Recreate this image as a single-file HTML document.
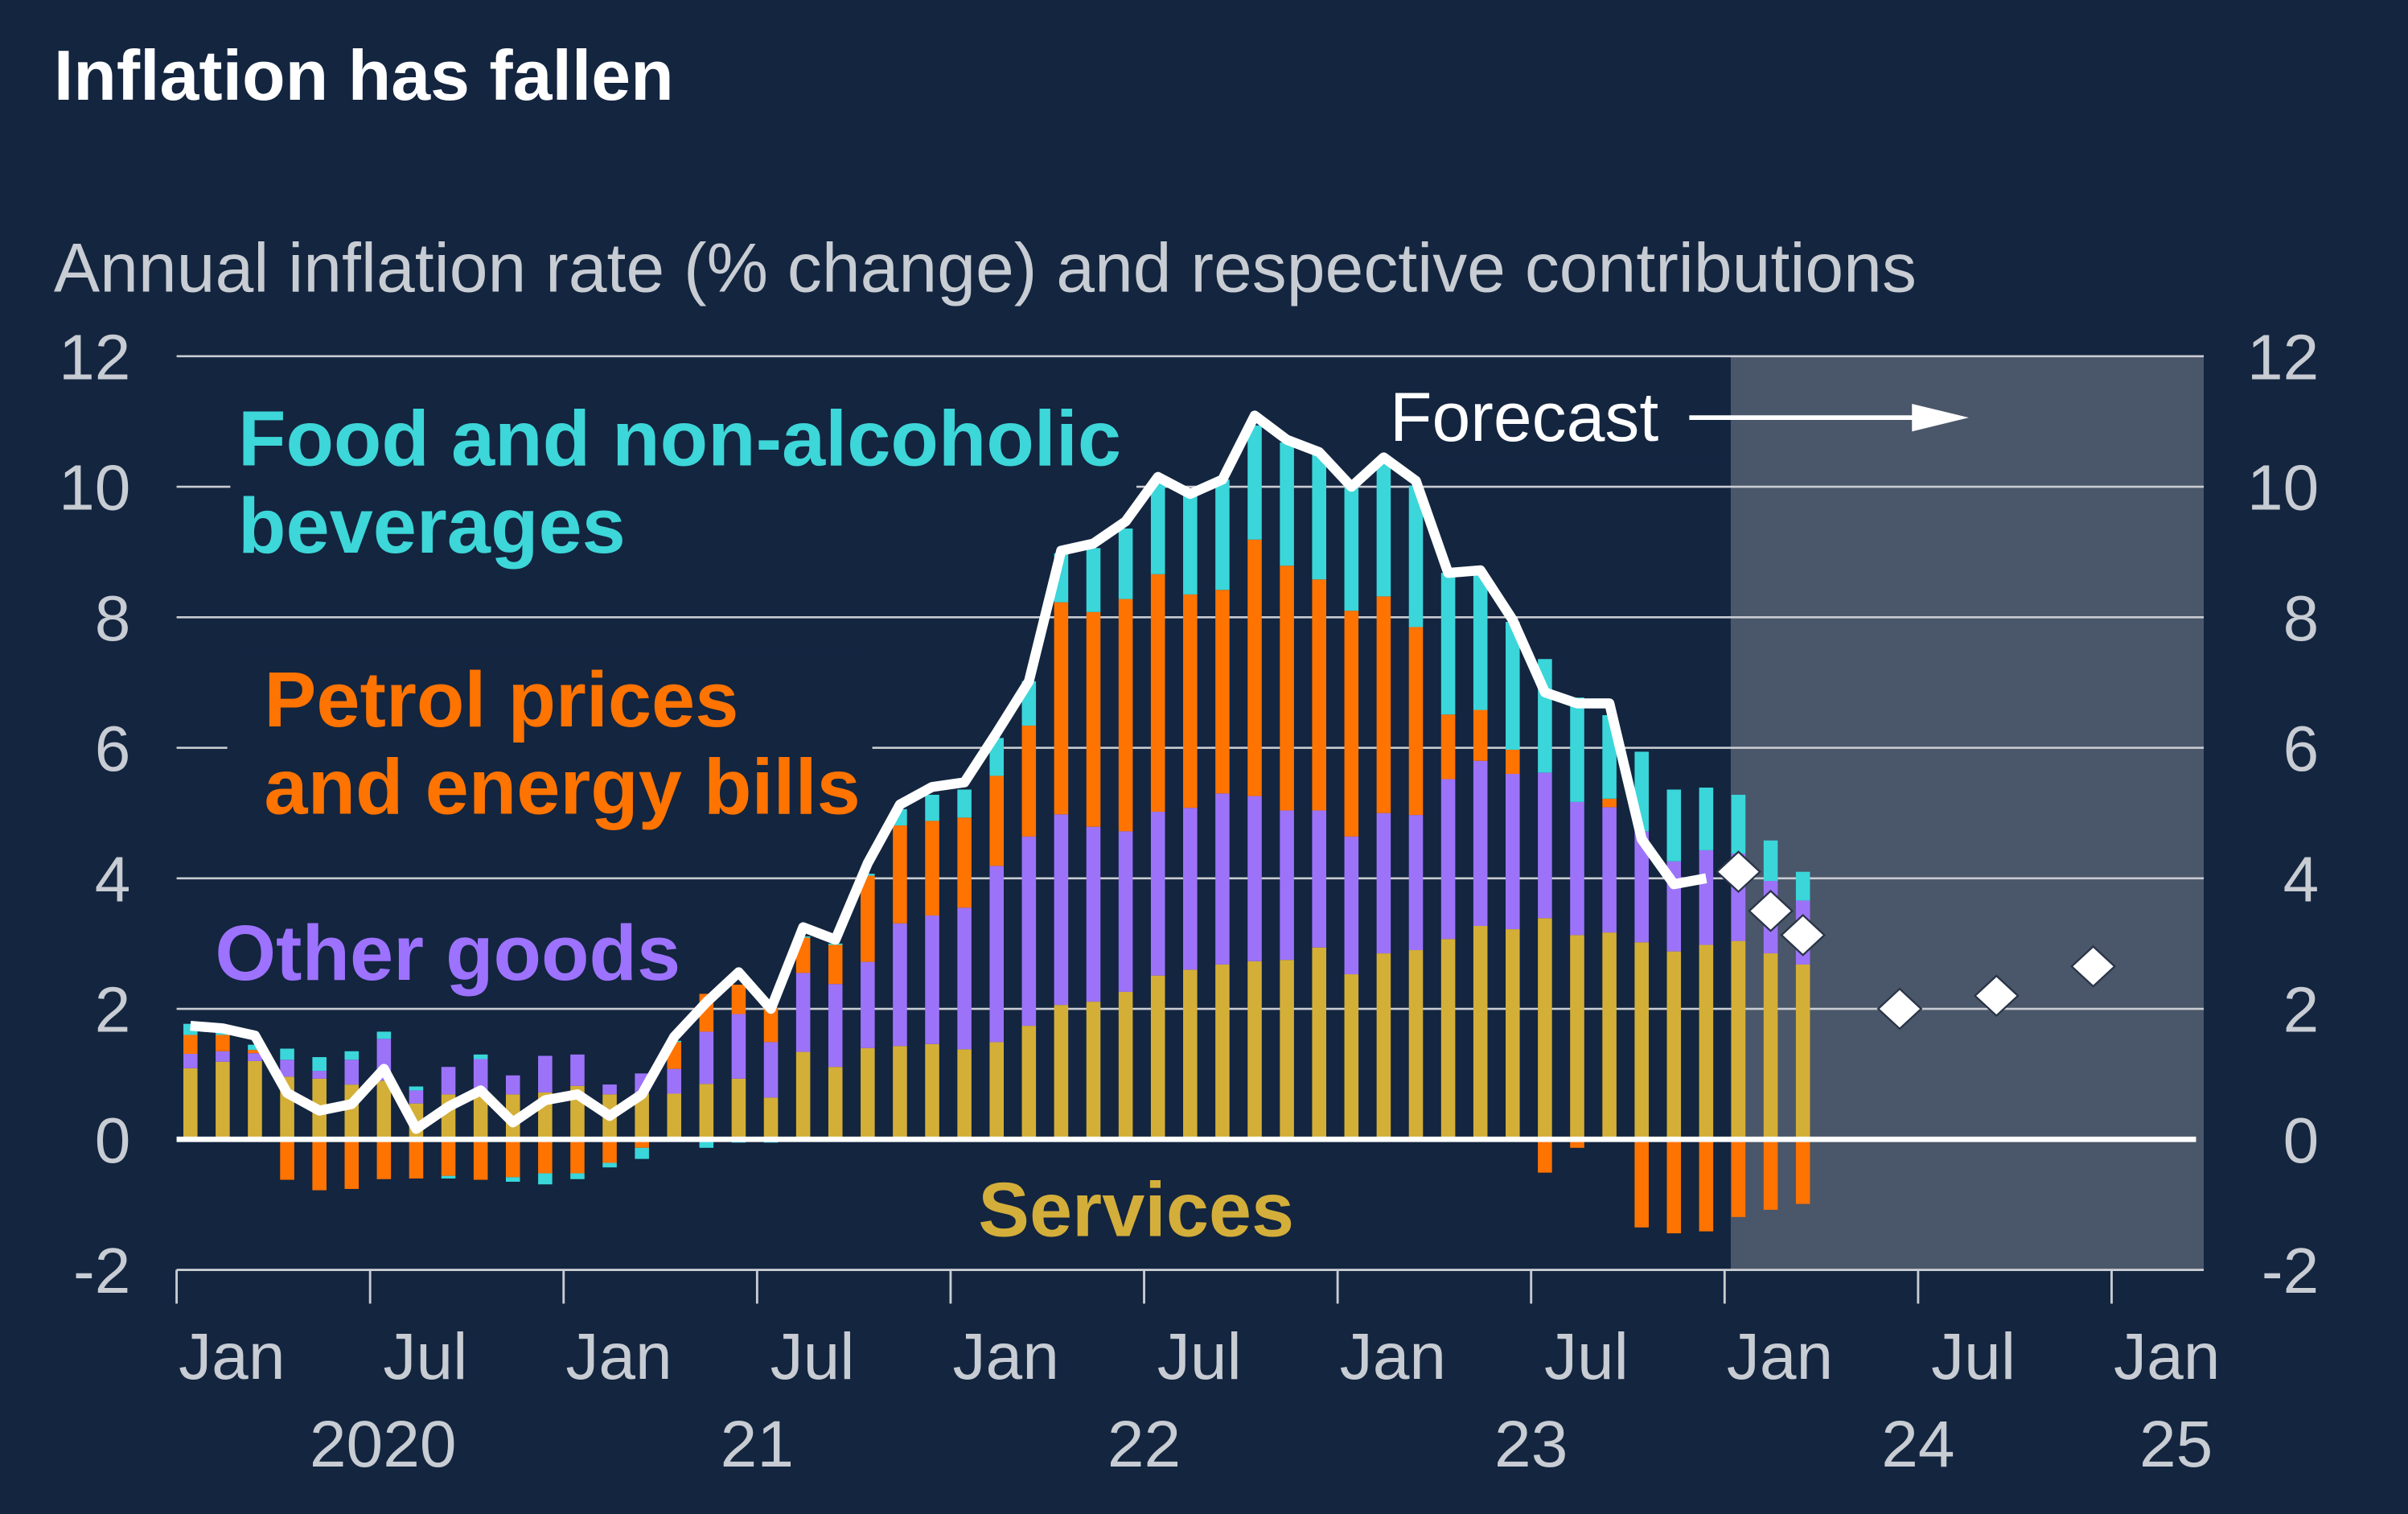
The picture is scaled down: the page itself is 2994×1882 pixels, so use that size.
<!DOCTYPE html>
<html><head><meta charset="utf-8"><style>
html,body{margin:0;padding:0;background:#13253f;}
svg{display:block;font-family:"Liberation Sans",Arial,sans-serif;}
</style></head><body>
<svg id="chart" width="2994" height="1882" viewBox="0 0 1568 986" preserveAspectRatio="none" xmlns="http://www.w3.org/2000/svg">
<rect x="0" y="0" width="1568" height="986" fill="#13253f"/>
<text x="35" y="65" fill="#ffffff" font-size="46" font-weight="bold">Inflation has fallen</text>
<text x="35" y="190" fill="#c8ccd3" font-size="45">Annual inflation rate (% change) and respective contributions</text>
<rect x="1127" y="232" width="308" height="595" fill="#4a5669"/>
<g id="grid"></g>
<g id="labelbg">
<rect x="150" y="255" width="590" height="120" fill="#13253f"/>
<rect x="148" y="425" width="420" height="120" fill="#13253f"/>
<rect x="890" y="245" width="235" height="55" fill="#13253f"/>
</g>
<g id="bars"></g>
<g id="axes"></g>
<g id="lines"></g>
<text x="155" y="303" fill="#3dd6d9" font-size="51" font-weight="bold">Food and non-alcoholic</text>
<text x="155" y="360" fill="#3dd6d9" font-size="51" font-weight="bold">beverages</text>
<text x="172" y="473" fill="#ff7300" font-size="51" font-weight="bold">Petrol prices</text>
<text x="172" y="530" fill="#ff7300" font-size="51" font-weight="bold">and energy bills</text>
<text x="140" y="638" fill="#9d72ff" font-size="51" font-weight="bold">Other goods</text>
<text x="637" y="805" fill="#d4ae3a" font-size="50" font-weight="bold">Services</text>
<text x="905" y="287" fill="#ffffff" font-size="45">Forecast</text>
<line x1="1100" y1="272" x2="1255" y2="272" stroke="#ffffff" stroke-width="3"/>
<polygon points="1245,263 1282,272 1245,281" fill="#ffffff"/>
</svg>
<script>
const services=[1.09,1.19,1.20,0.96,0.93,0.84,0.90,0.55,0.69,0.72,0.69,0.72,0.82,0.69,0.70,0.70,0.85,0.93,0.64,1.34,1.11,1.40,1.43,1.46,1.38,1.49,1.74,2.06,2.11,2.26,2.51,2.60,2.68,2.73,2.75,2.94,2.53,2.85,2.90,3.07,3.27,3.22,3.39,3.13,3.17,3.02,2.88,2.98,3.04,2.85,2.68];
const otherGoods=[0.22,0.16,0.12,0.26,0.12,0.38,0.64,0.20,0.42,0.51,0.29,0.56,0.48,0.15,0.31,0.38,0.80,0.99,0.85,1.21,1.27,1.32,1.88,1.97,2.17,2.70,2.90,2.92,2.68,2.46,2.51,2.48,2.62,2.53,2.29,2.10,2.11,2.15,2.07,2.45,2.53,2.38,2.23,2.04,1.92,1.70,1.38,1.45,1.34,1.11,0.98];
const energy=[0.29,0.25,0.05,-0.62,-0.78,-0.76,-0.61,-0.60,-0.56,-0.62,-0.58,-0.52,-0.52,-0.36,-0.13,0.41,0.58,0.45,0.53,0.54,0.60,1.32,1.50,1.45,1.38,1.38,1.70,3.25,3.29,3.56,3.64,3.27,3.12,3.93,3.75,3.54,3.46,3.32,2.88,0.99,0.78,0.37,-0.51,-0.13,0.13,-1.35,-1.44,-1.41,-1.19,-1.08,-0.99];
const food=[0.17,0.03,0.08,0.17,0.21,0.13,0.11,0.06,-0.04,0.07,-0.07,-0.17,-0.09,-0.07,-0.17,0.02,-0.13,-0.05,-0.05,0.02,0.02,0.03,0.25,0.40,0.43,0.58,0.68,0.75,0.98,1.08,1.42,1.57,1.69,1.75,1.89,1.95,1.98,2.10,2.17,2.17,2.06,1.96,1.74,1.60,1.28,1.22,1.10,0.96,0.90,0.62,0.44];
const inflation=[1.74,1.70,1.59,0.71,0.44,0.54,1.08,0.16,0.50,0.75,0.26,0.60,0.69,0.36,0.69,1.57,2.10,2.56,2.00,3.25,3.06,4.23,5.13,5.40,5.47,6.23,7.02,9.02,9.13,9.47,10.15,9.89,10.11,11.09,10.72,10.53,10.00,10.45,10.09,8.68,8.72,7.96,6.85,6.68,6.68,4.60,3.91,4.00];
const forecastMonths=[48,49,50,53,56,59];
const forecastValues=[4.10,3.50,3.13,2.00,2.20,2.65];
const yTicks=[12,10,8,6,4,2,0,-2];
const xTickMonths=[0,6,12,18,24,30,36,42,48,54,60];
const monthLabels=["Jan","Jul","Jan","Jul","Jan","Jul","Jan","Jul","Jan","Jul","Jan"];
const yearLabels=["2020","21","22","23","24","25"];
const yearLabelMonths=[6.4,18,30,42,54,62];

const NS="http://www.w3.org/2000/svg";
function y(v){return 742-v*42.5;}
function xm(i){return 124+i*21;}
function xt(m){return 115+m*21;}
function mk(tag,attrs,parent){const e=document.createElementNS(NS,tag);for(const k in attrs)e.setAttribute(k,attrs[k]);parent.appendChild(e);return e;}
const grid=document.getElementById('grid'),bars=document.getElementById('bars'),axes=document.getElementById('axes'),lines=document.getElementById('lines');

yTicks.forEach(v=>{
  if(v!==0&&v!==-2){const g=mk('line',{x1:115,x2:1435,y1:y(v),y2:y(v),stroke:'#c9ccd2','stroke-width':1.4},grid);
  
  }
  const l=mk('text',{x:85,y:y(v)+15,fill:'#c8ccd3','font-size':42,'text-anchor':'end'},axes);l.textContent=v;
  
  
  const r=mk('text',{x:1510,y:y(v)+15,fill:'#c8ccd3','font-size':42,'text-anchor':'end'},axes);r.textContent=v;
  
  
});
const ax=mk('line',{x1:115,x2:1435,y1:y(-2),y2:y(-2),stroke:'#c9ccd2','stroke-width':1.5},axes);


xTickMonths.forEach((m,i)=>{
  const t=mk('line',{x1:xt(m),x2:xt(m),y1:y(-2),y2:y(-2)+22,stroke:'#c9ccd2','stroke-width':1.5},axes);
  
  
  const lb=mk('text',{x:xt(m)+36,y:898,fill:'#c8ccd3','font-size':43,'text-anchor':'middle'},axes);lb.textContent=monthLabels[i];
  
  
});
yearLabels.forEach((yl,i)=>{
  const lb=mk('text',{x:xt(yearLabelMonths[i]),y:955,fill:'#c8ccd3','font-size':43,'text-anchor':'middle'},axes);lb.textContent=yl;
  
  
});

const series=[[services,'#d4af37','services'],[otherGoods,'#9c73f8','other-goods'],[energy,'#ff7300','energy'],[food,'#3ad6da','food']];
for(let i=0;i<services.length;i++){
  let pos=0,neg=0;
  series.forEach(([arr,col,nm])=>{
    const v=arr[i];let top,bot;
    if(v>=0){bot=pos;top=pos+v;pos=top;}else{top=neg;bot=neg+v;neg=bot;}
    const r=mk('rect',{x:xm(i)-4.6,y:y(top),width:9.2,height:Math.max(0,y(bot)-y(top)),fill:col},bars);
    
    
  });
}
const z=mk('line',{x1:115,x2:1430,y1:y(0),y2:y(0),stroke:'#ffffff','stroke-width':3.5},lines);


const pts=inflation.map((v,i)=>xm(i)+','+y(v)).join(' ');
const pl=mk('polyline',{points:pts,fill:'none',stroke:'#ffffff','stroke-width':6.5,'stroke-linejoin':'round'},lines);


forecastMonths.forEach((m,i)=>{
  const cx=xm(m),cy=y(forecastValues[i]);
  const d=mk('polygon',{points:`${cx-14},${cy} ${cx},${cy-13} ${cx+14},${cy} ${cx},${cy+13}`,fill:'#ffffff',stroke:'#2a3448','stroke-width':1.2},lines);
  
  
});
</script>
</body></html>
